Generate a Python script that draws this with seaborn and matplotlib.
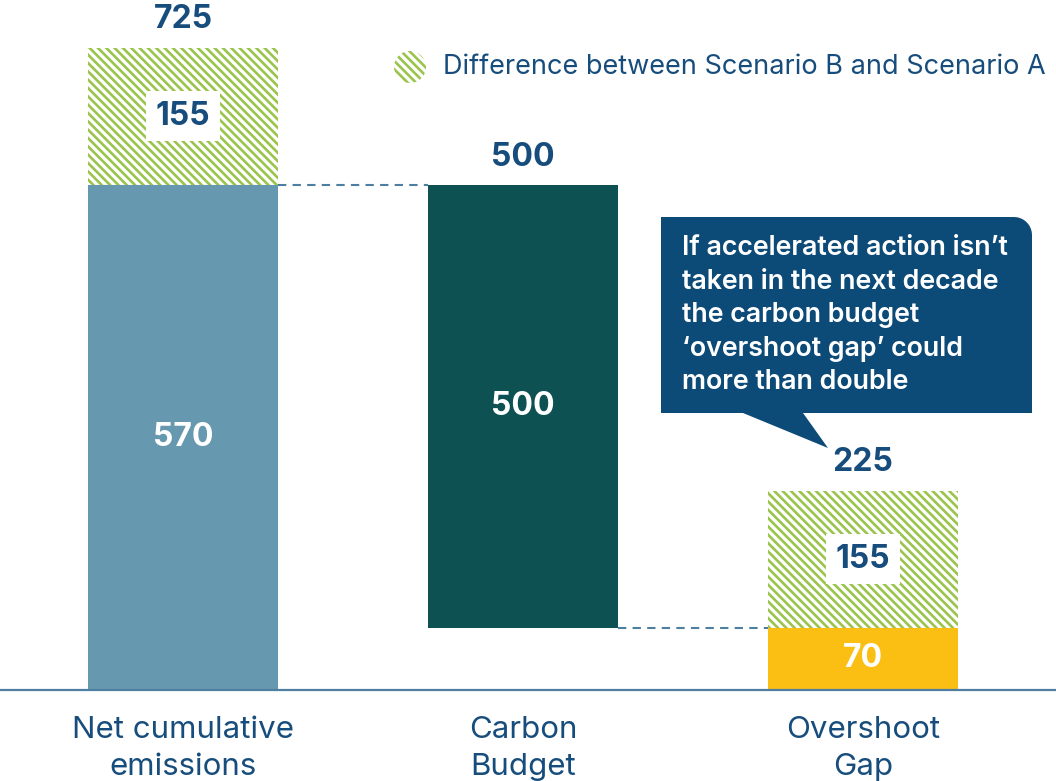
import numpy as np
import pandas as pd
import seaborn as sns
import matplotlib.pyplot as plt
from matplotlib.patches import Ellipse, PathPatch
from matplotlib.path import Path

categories = ['Net cumulative\nemissions', 'Carbon\nBudget', 'Overshoot\nGap']
solid_bottom = [0, 70, 0]
solid_height = [570, 500, 70]
diff_height = [155, 0, 155]
totals = [725, 500, 225]
legend_label = 'Difference between Scenario B and Scenario A'
callout_text = ("If accelerated action isn\u2019t\ntaken in the next decade\nthe carbon budget\n"
                "\u2018overshoot gap\u2019 could\nmore than double")

solid_colors = ['#6699B0', '#0E5153', '#FBBF14']
navy = '#174D7C'
green = '#9BC44C'
callout_blue = '#0C4A77'
line_blue = '#4F7FA0'

sns.set_theme(style='white')
plt.rcParams['font.family'] = ['Inter', 'DejaVu Sans']
plt.rcParams['hatch.linewidth'] = 1.9

df = pd.DataFrame({'cat': categories, 'solid': solid_height, 'diff': diff_height})
diff_bottom = [b + h for b, h in zip(solid_bottom, solid_height)]
diff_bottom[1] = 0
stack_top = [b + h + d for b, h, d in zip(solid_bottom, solid_height, diff_height)]

fig = plt.figure(figsize=(10.56, 7.81), dpi=100)
ax = fig.add_axes([0, 91 / 781, 1, 690 / 781])

width = 0.56
hatch = '\\\\\\\\'
sns.barplot(data=df, x='cat', y='solid', bottom=solid_bottom, width=width,
            saturation=1, color=solid_colors[0], linewidth=0, ax=ax)
for patch, c in zip(ax.patches, solid_colors):
    patch.set_facecolor(c)
n_solid = len(ax.patches)
sns.barplot(data=df, x='cat', y='diff', bottom=diff_bottom, width=width,
            saturation=1, color='white', linewidth=0, ax=ax)
for patch in ax.patches[n_solid:]:
    patch.set_edgecolor(green)
    patch.set_hatch(hatch)
    patch.set_linewidth(0)

ax.set_xlim(-183 / 340, (1056 - 183) / 340)
ax.set_ylim(0, 690 / 0.886)

# dashed connectors
ax.hlines(solid_height[0], 0 + width / 2, 1 - width / 2, colors=line_blue,
          linestyles=(0, (4, 3)), linewidth=1.5)
ax.hlines(solid_bottom[1], 1 + width / 2, 2 - width / 2, colors=line_blue,
          linestyles=(0, (4, 3)), linewidth=1.5)

# labels
for i in range(len(categories)):
    ax.annotate(str(totals[i]), (i, stack_top[i]), xytext=(0, 20), textcoords='offset points',
                ha='center', va='center', fontsize=23, fontweight='bold', color=navy)
    ax.text(i, solid_bottom[i] + solid_height[i] / 2, str(solid_height[i]), ha='center',
            va='center', fontsize=23, fontweight='bold', color='white')
    if diff_height[i] > 0:
        ax.text(i, diff_bottom[i] + diff_height[i] / 2, str(diff_height[i]), ha='center',
                va='center', fontsize=23, fontweight='bold', color=navy,
                bbox=dict(boxstyle='square,pad=0.3', fc='white', ec='none'))

ax.set_xlabel('')
ax.set_ylabel('')
ax.set_yticks([])
ax.tick_params(axis='x', length=0, pad=19, labelsize=22.5, labelcolor=navy)
for lbl in ax.get_xticklabels():
    lbl.set_linespacing(1.4)
sns.despine(ax=ax, left=True)
ax.spines['bottom'].set_color(line_blue)
ax.spines['bottom'].set_linewidth(1.6)

# legend marker and text
W, H = 1056, 781
leg = Ellipse((410 / W, 1 - 67 / H), 32 / W, 32 / H, transform=fig.transFigure,
              facecolor='white', edgecolor=green, hatch=hatch, linewidth=0)
fig.patches.append(leg)
fig.text(443 / W, 1 - 67 / H, legend_label, ha='left', va='center', fontsize=19.5, color=navy)

# callout bubble
r = 18
x0, x1, y0, y1 = 661, 1032, 217, 413
pts = [(x0, y0), (x1 - r, y0)]
for a in np.linspace(90, 0, 10):
    pts.append((x1 - r + r * np.cos(np.radians(a)), y0 + r - r * np.sin(np.radians(a))))
pts += [(x1, y1), (803, y1), (828, 448), (743, y1), (x0, y1), (x0, y0)]
verts = [(x / W, 1 - y / H) for x, y in pts]
codes = [Path.MOVETO] + [Path.LINETO] * (len(verts) - 2) + [Path.CLOSEPOLY]
fig.patches.append(PathPatch(Path(verts, codes), transform=fig.transFigure,
                             facecolor=callout_blue, edgecolor='none'))
fig.text(682 / W, 1 - 235 / H, callout_text, ha='left', va='top', fontsize=19.3,
         fontweight='semibold', color='white', linespacing=1.38)

fig.savefig('out.png', dpi=100)
